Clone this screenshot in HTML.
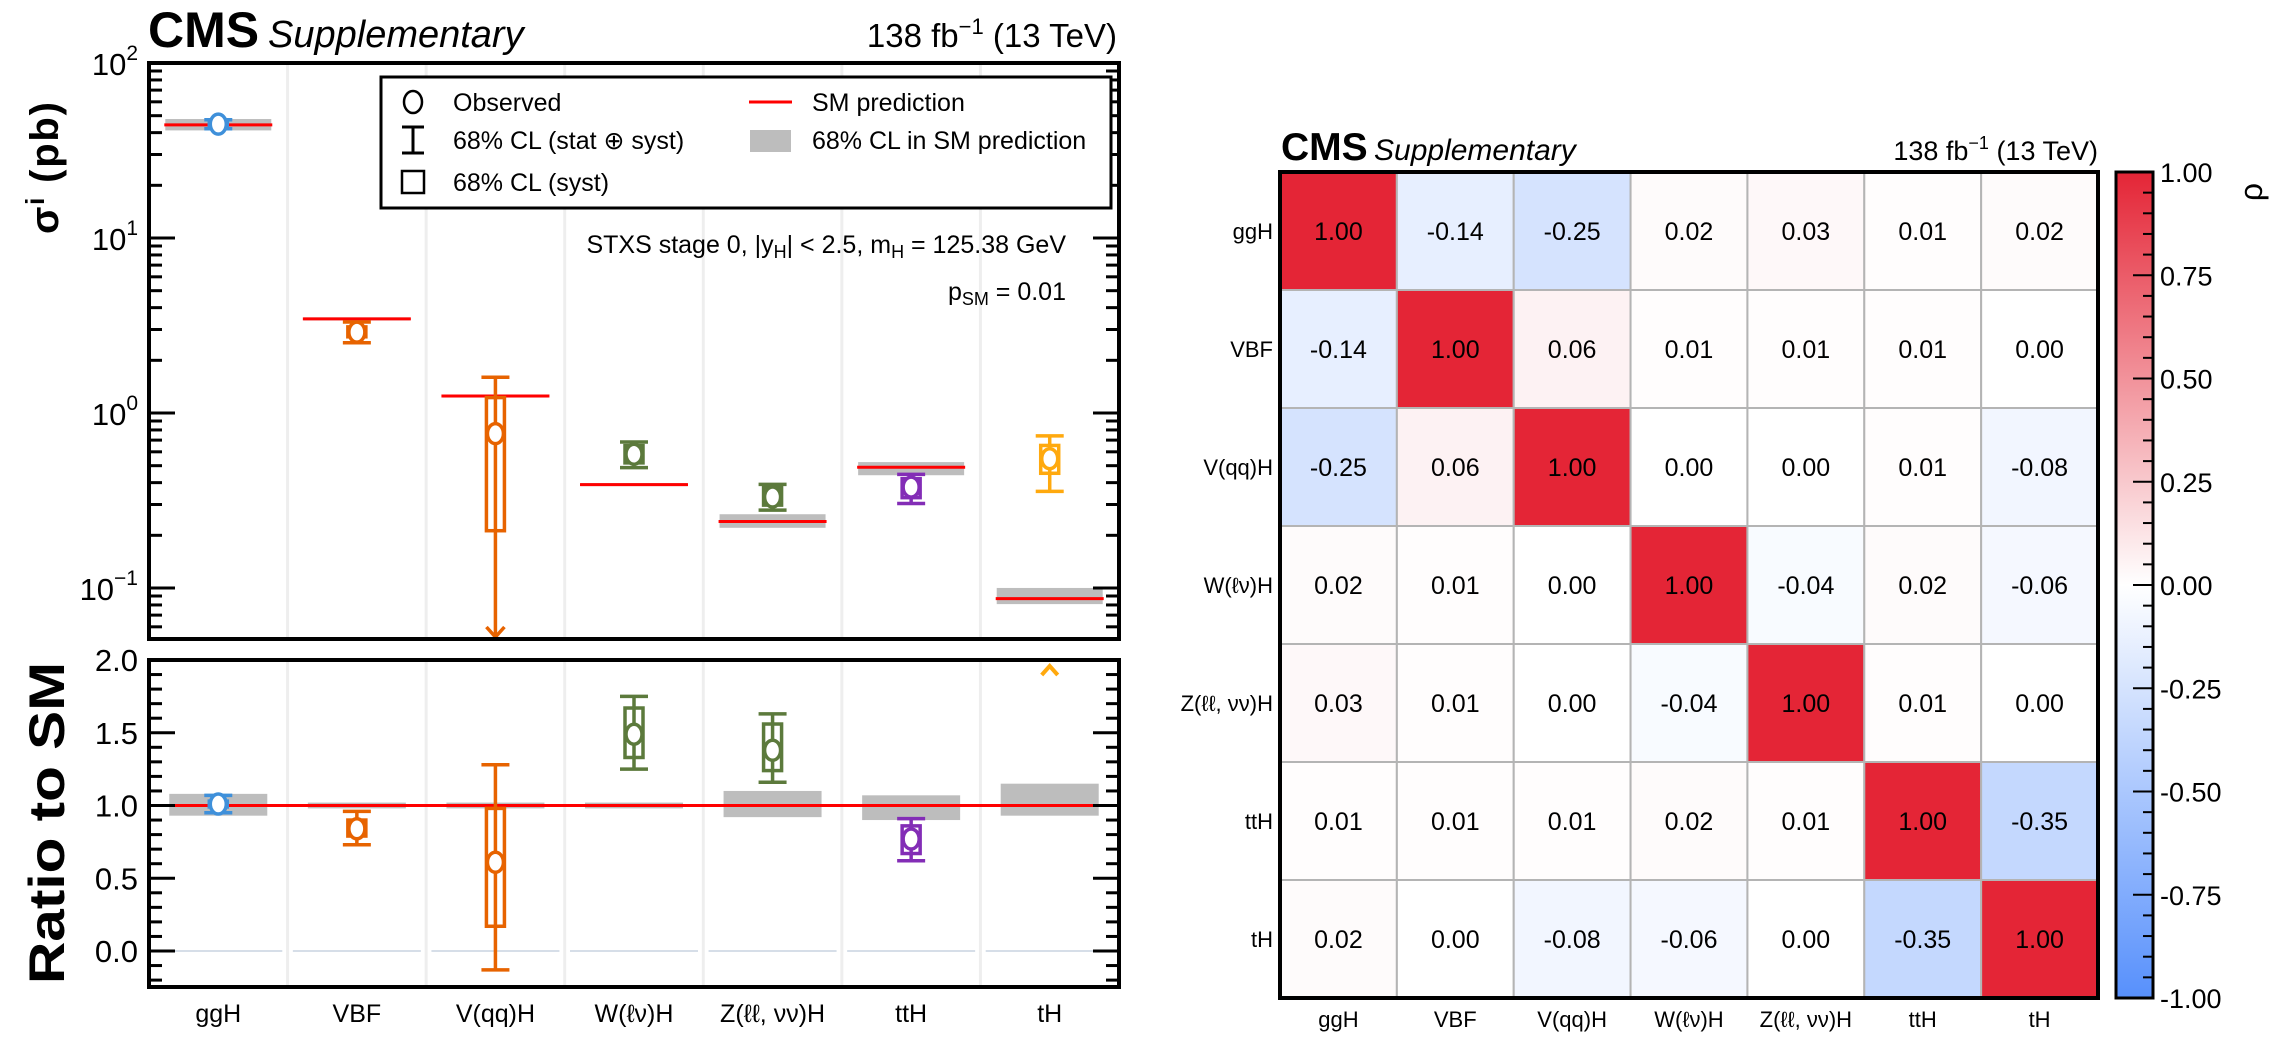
<!DOCTYPE html>
<html><head><meta charset="utf-8">
<style>
html,body{margin:0;padding:0;background:#fff;}
svg{display:block;font-family:"Liberation Sans",Arial,sans-serif;}
</style></head>
<body>
<svg id="fig" width="2284" height="1044" viewBox="0 0 2284 1044" xmlns="http://www.w3.org/2000/svg">
  <g>
    <text x="148" y="47" font-size="50" font-weight="bold">CMS</text>
    <text x="268" y="47" font-size="38" font-style="italic">Supplementary</text>
    <text x="1117" y="47" font-size="33" text-anchor="end">138 fb<tspan dy="-13" font-size="22">−1</tspan><tspan dy="13"> (13 TeV)</tspan></text>
  </g>
  <text transform="translate(58,168) rotate(-90)" font-size="40" font-weight="bold" text-anchor="middle" textLength="132">σ<tspan dy="-14" font-size="26">i</tspan><tspan dy="14"> (pb)</tspan></text>
  <text transform="translate(64,823) rotate(-90)" font-size="50" font-weight="bold" text-anchor="middle" textLength="322" lengthAdjust="spacingAndGlyphs">Ratio to SM</text>
  <g id="upper"></g>
  <g id="lower"></g>
  <g>
    <rect x="381" y="77" width="730" height="131" fill="#fff" stroke="#000" stroke-width="3"/>
    <g>
      <ellipse cx="413" cy="102" rx="9" ry="11" fill="none" stroke="#000" stroke-width="2.5"/>
      <text x="453" y="111" font-size="25">Observed</text>
    </g>
    <g>
      <path d="M402 127 H424 M413 127 V153 M402 153 H424" stroke="#000" stroke-width="3" fill="none"/>
      <text x="453" y="149" font-size="25">68% CL (stat ⊕ syst)</text>
    </g>
    <g>
      <rect x="402" y="171" width="22" height="22" fill="none" stroke="#000" stroke-width="2.5"/>
      <text x="453" y="191" font-size="25">68% CL (syst)</text>
    </g>
    <g>
      <line x1="749" y1="102" x2="792" y2="102" stroke="#ff0000" stroke-width="3"/>
      <text x="812" y="111" font-size="25">SM prediction</text>
    </g>
    <g>
      <rect x="750" y="130" width="41" height="22" fill="#bdbdbd"/>
      <text x="812" y="149" font-size="25">68% CL in SM prediction</text>
    </g>
  </g>
  <text x="1066" y="253" font-size="25" text-anchor="end">STXS stage 0, |y<tspan dy="5" font-size="18">H</tspan><tspan dy="-5">| &lt; 2.5, m</tspan><tspan dy="5" font-size="18">H</tspan><tspan dy="-5"> = 125.38 GeV</tspan></text>
  <text x="1066" y="300" font-size="25" text-anchor="end">p<tspan dy="5" font-size="18">SM</tspan><tspan dy="-5"> = 0.01</tspan></text>

  <g>
    <text x="1281" y="160" font-size="39" font-weight="bold">CMS</text>
    <text x="1374" y="160" font-size="30" font-style="italic">Supplementary</text>
    <text x="2098" y="160" font-size="27" text-anchor="end">138 fb<tspan dy="-11" font-size="18">−1</tspan><tspan dy="11"> (13 TeV)</tspan></text>
  </g>
  <defs>
    <linearGradient id="cmap" x1="0" y1="1" x2="0" y2="0">
      <stop offset="0" stop-color="#5790fc"/>
      <stop offset="0.5" stop-color="#ffffff"/>
      <stop offset="1" stop-color="#e42536"/>
    </linearGradient>
  </defs>
  <g id="heat"></g>
  <g id="cbar"></g>
</svg>
<script>
const categories = ["ggH","VBF","V(qq)H","W(ℓν)H","Z(ℓℓ, νν)H","ttH","tH"];
const smXs = [44.3, 3.45, 1.25, 0.39, 0.24, 0.49, 0.087];
const ratioObs = [1.01, 0.84, 0.61, 1.49, 1.38, 0.77, 6.3];
const ratioTotLo = [0.95, 0.73, -0.13, 1.25, 1.16, 0.62, 4.1];
const ratioTotHi = [1.07, 0.96, 1.28, 1.75, 1.63, 0.91, 8.5];
const ratioSystLo = [0.99, 0.79, 0.17, 1.33, 1.24, 0.67, 5.2];
const ratioSystHi = [1.03, 0.90, 0.98, 1.67, 1.56, 0.86, 7.5];
const smBandLo = [0.93, 0.98, 0.98, 0.98, 0.92, 0.90, 0.93];
const smBandHi = [1.08, 1.02, 1.02, 1.02, 1.10, 1.07, 1.15];
const seriesColors = ["#3f90da","#e76300","#e76300","#5c7a3c","#5c7a3c","#832db6","#ffa90e"];
const logTickExps = [2, 1, 0, -1];
const ratioTicks = [0.0, 0.5, 1.0, 1.5, 2.0];
const ratioTickLabels = ["0.0","0.5","1.0","1.5","2.0"];
const corrLabels = ["ggH","VBF","V(qq)H","W(ℓν)H","Z(ℓℓ, νν)H","ttH","tH"];
const corrRow0 = [1.00, -0.14, -0.25, 0.02, 0.03, 0.01, 0.02];
const corrRow1 = [-0.14, 1.00, 0.06, 0.01, 0.01, 0.01, 0.00];
const corrRow2 = [-0.25, 0.06, 1.00, 0.00, 0.00, 0.01, -0.08];
const corrRow3 = [0.02, 0.01, 0.00, 1.00, -0.04, 0.02, -0.06];
const corrRow4 = [0.03, 0.01, 0.00, -0.04, 1.00, 0.01, 0.00];
const corrRow5 = [0.01, 0.01, 0.01, 0.02, 0.01, 1.00, -0.35];
const corrRow6 = [0.02, 0.00, -0.08, -0.06, 0.00, -0.35, 1.00];
const corrMatrix = [corrRow0, corrRow1, corrRow2, corrRow3, corrRow4, corrRow5, corrRow6];
const cbarTicks = [1.0, 0.75, 0.5, 0.25, 0.0, -0.25, -0.5, -0.75, -1.0];

const NS = "http://www.w3.org/2000/svg";
function mk(parent, tag, attrs) {
  const e = document.createElementNS(NS, tag);
  for (const k in attrs) e.setAttribute(k, attrs[k]);
  parent.appendChild(e);
  return e;
}
const L = 149, R = 1119, UT = 63, UB = 639, LT = 660, LB = 987;
const colW = (R - L) / categories.length;
const xc = i => L + colW * (i + 0.5);
const yLog = v => UT + (2 - Math.log10(v)) * 175;
const yRat = r => 951 - r * 145.5;
const up = document.getElementById("upper");
const lo = document.getElementById("lower");

function gridAndFrame(g, top, bot) {
  for (let i = 1; i < categories.length; i++) {
    const gl = mk(g, "line", {x1: L + colW * i, x2: L + colW * i, y1: top, y2: bot, stroke: "#eeeeee", "stroke-width": 3});
    
    
  }
}
gridAndFrame(up, UT, UB);
gridAndFrame(lo, LT, LB);

for (let i = 0; i < categories.length; i++) {
  const z = mk(lo, "line", {x1: xc(i) - 64, x2: xc(i) + 64, y1: yRat(0), y2: yRat(0), stroke: "#c8d4e0", "stroke-width": 1.5});
  
  
}

function errMarker(g, x, yc, yTlo, yThi, ySlo, yShi, col, name) {
  const grp = mk(g, "g", {stroke: col, "stroke-width": 3.5, fill: "none"});
  
  
  mk(grp, "line", {x1: x, x2: x, y1: yTlo, y2: yThi});
  mk(grp, "line", {x1: x - 14, x2: x + 14, y1: yTlo, y2: yTlo});
  mk(grp, "line", {x1: x - 14, x2: x + 14, y1: yThi, y2: yThi});
  mk(grp, "rect", {x: x - 9, y: Math.min(yShi, ySlo), width: 18, height: Math.abs(ySlo - yShi)});
  mk(grp, "ellipse", {cx: x, cy: yc, rx: 8, ry: 10, fill: "#fff"});
  return grp;
}

for (let i = 0; i < categories.length; i++) {
  const s = smXs[i], x = xc(i);
  const band = mk(up, "rect", {x: x - 53, y: yLog(s * smBandHi[i]), width: 106, height: Math.max(3, yLog(s * smBandLo[i]) - yLog(s * smBandHi[i])), fill: "#bdbdbd"});
  
  
  const sm = mk(up, "line", {x1: x - 54, x2: x + 54, y1: yLog(s), y2: yLog(s), stroke: "#ff0000", "stroke-width": 3});
  
  
  const clamp = v => v > 0 ? Math.min(UB, yLog(v)) : UB;
  const lowOut = ratioTotLo[i] <= 0;
  const g = errMarker(up, x, yLog(ratioObs[i] * s), clamp(ratioTotLo[i] * s), yLog(ratioTotHi[i] * s),
    clamp(ratioSystLo[i] * s), yLog(ratioSystHi[i] * s), seriesColors[i], 'observed-xs-' + i);
  if (lowOut) {
    g.childNodes[1].remove();
    mk(g, "path", {d: `M${x - 9} ${UB - 12} L${x} ${UB - 2} L${x + 9} ${UB - 12}`});
  }
}
for (let i = 0; i < categories.length; i++) {
  const x = xc(i);
  const b = mk(lo, "rect", {x: x - 49, y: yRat(smBandHi[i]), width: 98, height: yRat(smBandLo[i]) - yRat(smBandHi[i]), fill: "#bdbdbd"});
  
  
}
const ref = mk(lo, "line", {x1: L, x2: R, y1: yRat(1), y2: yRat(1), stroke: "#ff0000", "stroke-width": 3});


for (let i = 0; i < categories.length; i++) {
  const x = xc(i);
  if (ratioObs[i] > 2.0) {
    const a = mk(lo, "path", {d: `M${x - 8} ${LT + 15} L${x} ${LT + 6} L${x + 8} ${LT + 15}`, stroke: seriesColors[i], "stroke-width": 4, fill: "none"});
    
    
    continue;
  }
  errMarker(lo, x, yRat(ratioObs[i]), yRat(ratioTotLo[i]), yRat(ratioTotHi[i]),
    yRat(ratioSystLo[i]), yRat(ratioSystHi[i]), seriesColors[i], 'observed-ratio-' + i);
}

function frame(g, top, bot) {
  const f = mk(g, "rect", {x: L, y: top, width: R - L, height: bot - top, fill: "none", stroke: "#000", "stroke-width": 4});
  
  
}
frame(up, UT, UB);
frame(lo, LT, LB);
for (const e of logTickExps) {
  const y = yLog(Math.pow(10, e));
  mk(up, "line", {x1: L, x2: L + 26, y1: y, y2: y, stroke: "#000", "stroke-width": 3});
  mk(up, "line", {x1: R - 26, x2: R, y1: y, y2: y, stroke: "#000", "stroke-width": 3});
  const t = mk(up, "text", {x: 138, y: y + 12, "font-size": 31, "text-anchor": "end"});
  
  
  t.textContent = "10";
  const sp = mk(t, "tspan", {dy: -15, "font-size": 21});
  sp.textContent = e < 0 ? "−" + (-e) : String(e);
}
for (let e = -2; e < 2; e++) {
  for (let m = 2; m <= 9; m++) {
    const v = m * Math.pow(10, e);
    const y = yLog(v);
    if (y < UT || y > UB) continue;
    mk(up, "line", {x1: L, x2: L + 13, y1: y, y2: y, stroke: "#000", "stroke-width": 3});
    mk(up, "line", {x1: R - 13, x2: R, y1: y, y2: y, stroke: "#000", "stroke-width": 3});
  }
}
for (let k = -2; k <= 20; k++) {
  const r = k / 10, y = yRat(r);
  if (y < LT - 1 || y > LB) continue;
  const major = k % 5 === 0, len = major ? 26 : 13;
  mk(lo, "line", {x1: L, x2: L + len, y1: y, y2: y, stroke: "#000", "stroke-width": 3});
  mk(lo, "line", {x1: R - len, x2: R, y1: y, y2: y, stroke: "#000", "stroke-width": 3});
}
ratioTicks.forEach((r, i) => {
  const t = mk(lo, "text", {x: 138, y: yRat(r) + 11, "font-size": 31, "text-anchor": "end"});
  
  
  t.textContent = ratioTickLabels[i];
});
categories.forEach((c, i) => {
  const t = mk(lo, "text", {x: xc(i), y: 1022, "font-size": 25, "text-anchor": "middle"});
  
  
  t.textContent = c;
});

const HL = 1280, HR = 2098, HT = 172, HB = 998;
const cw = (HR - HL) / 7, ch = (HB - HT) / 7;
const heat = document.getElementById("heat");
function colorFor(v) {
  const red = [228, 37, 54], blue = [87, 144, 252];
  const t = Math.min(1, Math.abs(v)), c = v >= 0 ? red : blue;
  const m = c.map(k => Math.round(255 + (k - 255) * t));
  return `rgb(${m[0]},${m[1]},${m[2]})`;
}
corrMatrix.forEach((row, r) => {
  row.forEach((v, c) => {
    const cell = mk(heat, "rect", {x: HL + c * cw, y: HT + r * ch, width: cw, height: ch, fill: colorFor(v), stroke: "#b4b4b4", "stroke-width": 2});
    
    
    const t = mk(heat, "text", {x: HL + (c + 0.5) * cw, y: HT + (r + 0.5) * ch + 9, "font-size": 25, "text-anchor": "middle"});
    
    
    t.textContent = v.toFixed(2);
  });
});
const hf = mk(heat, "rect", {x: HL, y: HT, width: HR - HL, height: HB - HT, fill: "none", stroke: "#000", "stroke-width": 4});


corrLabels.forEach((lab, i) => {
  const ty = mk(heat, "text", {x: HL - 7, y: HT + (i + 0.5) * ch + 8, "font-size": 22, "text-anchor": "end"});
  
  
  ty.textContent = lab;
  const tx = mk(heat, "text", {x: HL + (i + 0.5) * cw, y: 1027, "font-size": 22, "text-anchor": "middle"});
  
  
  tx.textContent = lab;
});

const cb = document.getElementById("cbar");
const CL = 2116, CR = 2153;
const cy = v => HT + (1 - v) / 2 * (HB - HT);
const grad = mk(cb, "rect", {x: CL, y: HT, width: CR - CL, height: HB - HT, fill: "url(#cmap)", stroke: "#000", "stroke-width": 3});


for (let k = -20; k <= 20; k++) {
  const v = k / 20, y = cy(v);
  const major = k % 5 === 0;
  mk(cb, "line", {x1: CR - (major ? 20 : 10), x2: CR, y1: y, y2: y, stroke: "#000", "stroke-width": 2});
}
cbarTicks.forEach(v => {
  const t = mk(cb, "text", {x: 2160, y: cy(v) + 10, "font-size": 27});
  
  
  t.textContent = v.toFixed(2);
});
const rho = mk(cb, "text", {transform: "translate(2262,192) rotate(-90)", "font-size": 32, "text-anchor": "middle"});


rho.textContent = "ρ";
</script>
</body></html>
